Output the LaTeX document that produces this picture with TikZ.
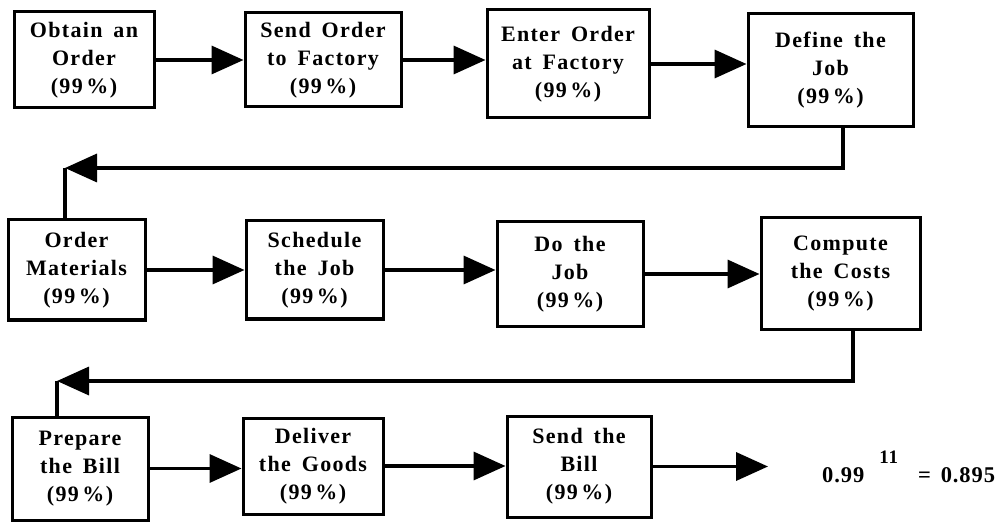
\documentclass[tikz,border=0pt]{standalone}
\usepackage{fontspec}
\setmainfont{Liberation Serif}
\newfontfamily\boxfont[LetterSpace=6,WordSpace=1.6]{Liberation Serif}
\newfontfamily\eqfont[LetterSpace=4]{Liberation Serif}
\usetikzlibrary{arrows.meta}

\tikzset{
  stepbox/.style={draw, line width=3pt, align=center, inner sep=0pt,
    font=\boxfont\bfseries\fontsize{22}{28}\selectfont},
  flow/.style={line width=3.5pt, -{Triangle[length=32pt,width=28pt]}},
  plain/.style={line width=3.5pt},
  eq/.style={inner sep=0pt, font=\eqfont\bfseries\fontsize{22.5}{26}\selectfont},
}

\begin{document}
\begin{tikzpicture}[x=1pt,y=-1pt]
\useasboundingbox (0,0) rectangle (1003,526);

% first row
\node[stepbox, minimum width=140pt, minimum height=96pt]  (b1)  at (84,60)      {Obtain an\\Order\\(99\,\%)};
\node[stepbox, minimum width=156pt, minimum height=94pt]  (b2)  at (323,60)     {Send Order\\to Factory\\(99\,\%)};
\node[stepbox, minimum width=162pt, minimum height=108pt] (b3)  at (568,64)     {Enter Order\\at Factory\\(99\,\%)};
\node[stepbox, minimum width=165pt, minimum height=113pt] (b4)  at (830.5,70.5) {Define the\\Job\\(99\,\%)};

% second row
\node[stepbox, minimum width=137pt, minimum height=100pt] (b5)  at (76.5,270)   {Order\\Materials\\(99\,\%)};
\node[stepbox, minimum width=137pt, minimum height=98pt]  (b6)  at (314.5,270)  {Schedule\\the Job\\(99\,\%)};
\node[stepbox, minimum width=146pt, minimum height=104pt] (b7)  at (570,274)    {Do the\\Job\\(99\,\%)};
\node[stepbox, minimum width=159pt, minimum height=111pt] (b8)  at (840.5,273.5){Compute\\the Costs\\(99\,\%)};

% third row
\node[stepbox, minimum width=136pt, minimum height=103pt] (b9)  at (80,468.5)   {Prepare\\the Bill\\(99\,\%)};
\node[stepbox, minimum width=140pt, minimum height=96pt]  (b10) at (313,466)    {Deliver\\the Goods\\(99\,\%)};
\node[stepbox, minimum width=144pt, minimum height=101pt] (b11) at (579,466.5)  {Send the\\Bill\\(99\,\%)};

% overall result
\node[eq, anchor=base west] (res) at (822,482)
  {0.99\hspace{15pt}\raisebox{19pt}{\fontsize{19}{19}\selectfont 11}\hspace{20pt}=\hspace{10pt}0.895};

% turning points of the return lines and the free end of the last arrow
\coordinate (t1) at (65,168);
\coordinate (t2) at (57,381);
\coordinate (out) at (768,466);

% arrows along the rows
\draw[flow] (b1.east) -- (b1.east -| b2.west);
\draw[flow] (b2.east) -- (b2.east -| b3.west);
\draw[flow] (b3.east) -- (b3.east -| b4.west);
\draw[flow] (b5.east) -- (b5.east -| b6.west);
\draw[flow] (b6.east) -- (b6.east -| b7.west);
\draw[flow] (b7.east) -- (b7.east -| b8.west);
\draw[flow] (b9.east) -- (b9.east -| b10.west);
\draw[flow] (b10.east) -- (b10.east -| b11.west);
\draw[flow] (b11.east) -- (b11.east -| out);

% return lines from the end of one row to the start of the next
\draw[flow] ([xshift=12.5pt]b4.south) |- (t1);
\draw[plain] (t1) -- (t1 |- b5.north);
\draw[flow] ([xshift=12.5pt]b8.south) |- (t2);
\draw[plain] (t2) -- (t2 |- b9.north);
\end{tikzpicture}
\end{document}
